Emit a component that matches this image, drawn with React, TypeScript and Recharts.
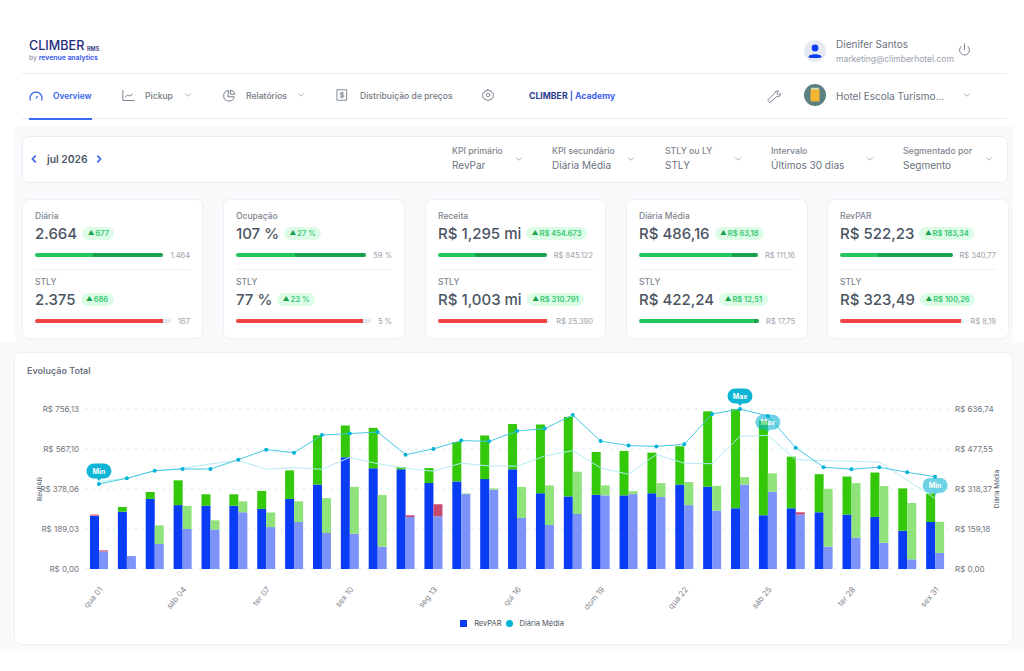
import {
  Bar,
  CartesianGrid,
  ComposedChart,
  Legend,
  Line,
  XAxis,
  YAxis,
} from "recharts";

const days = [
  "qua 01", "qui 02", "sex 03", "sáb 04", "dom 05", "seg 06", "ter 07", "qua 08", "qui 09", "sex 10", "sáb 11",
  "dom 12", "seg 13", "ter 14", "qua 15", "qui 16", "sex 17", "sáb 18", "dom 19", "seg 20", "ter 21", "qua 22",
  "qui 23", "sex 24", "sáb 25", "dom 26", "seg 27", "ter 28", "qua 29", "qui 30", "sex 31",
];

// barras do período atual (RevPAR + pickup positivo / negativo)
const revpar = [252, 271, 331, 302, 299, 299, 284, 331, 399, 528, 476, 471, 406, 414, 425, 471, 358, 343, 351, 348, 358, 399, 389, 287, 254, 287, 268, 257, 246, 181, 222];
const pickupUp = [0, 22, 33, 117, 54, 54, 85, 135, 233, 150, 191, 11, 71, 186, 206, 214, 325, 376, 202, 210, 192, 181, 356, 469, 447, 244, 180, 180, 210, 200, 135];
const pickupDown = [6, 0, 0, 0, 0, 0, 0, 0, 0, 0, 0, 0, 0, 0, 0, 0, 0, 0, 0, 0, 0, 0, 0, 0, 0, 0, 0, 0, 0, 0, 0];

// barras STLY
const revparStly = [83, 61, 118, 189, 186, 268, 198, 222, 170, 167, 106, 246, 249, 354, 375, 241, 208, 260, 348, 354, 340, 302, 276, 399, 365, 257, 106, 148, 124, 46, 76];
const pickupUpStly = [0, 0, 88, 109, 44, 52, 69, 98, 165, 221, 244, 0, 0, 3, 6, 147, 187, 200, 47, 14, 66, 109, 117, 35, 87, 0, 273, 258, 268, 266, 147];
const pickupDownStly = [5, 0, 0, 0, 0, 0, 0, 0, 0, 0, 0, 8, 57, 0, 0, 0, 0, 0, 0, 0, 0, 0, 0, 0, 0, 11, 0, 0, 0, 0, 0];

// linhas de Diária Média
const adr = [338, 361, 391, 398, 398, 435, 475, 463, 533, 539, 545, 455, 478, 511, 508, 549, 559, 613, 509, 491, 488, 496, 617, 636.74, 609, 483, 405, 397, 405, 385, 367];
const adrStly = [348, 361, 391, 401, 418, 432, 397, 403, 397, 444, 419, 401, 389, 421, 410, 409, 450, 471, 402, 377, 456, 421, 419, 528, 532, 435, 431, 429, 425, 354, 281];

const leftTicks = [0, 189.03, 378.06, 567.1, 756.13];
const rightTicks = [0, 159.18, 318.37, 477.55, 636.74];

const chartData = days.map((day, i) => ({
  day,
  revpar: revpar[i],
  pickupUp: pickupUp[i],
  pickupDown: pickupDown[i],
  revparStly: revparStly[i],
  pickupUpStly: pickupUpStly[i],
  pickupDownStly: pickupDownStly[i],
  adr: adr[i],
  adrStly: adrStly[i],
}));

const brl = (v: number) => `R$ ${v.toFixed(2).replace(".", ",")}`;

const navItems = [
  { label: "Overview", x: 53, color: "#3563e9", weight: 600, size: 8.4 },
  { label: "Pickup", x: 145, color: "#737a86", weight: 500, size: 8.6 },
  { label: "Relatórios", x: 246, color: "#737a86", weight: 500, size: 8.6 },
  { label: "Distribuição de preços", x: 360, color: "#737a86", weight: 500, size: 8.6 },
];

const filters = [
  { label: "KPI primário", value: "RevPar", x: 452, chevron: 519 },
  { label: "KPI secundário", value: "Diária Média", x: 552, chevron: 631 },
  { label: "STLY ou LY", value: "STLY", x: 665, chevron: 738 },
  { label: "Intervalo", value: "Últimos 30 dias", x: 771, chevron: 870 },
  { label: "Segmentado por", value: "Segmento", x: 903, chevron: 989 },
];

const GREEN = ["#22c55e", "#16a34a"];
const RED = ["#ef4444"];

const kpis = [
  { x: 22, w: 181, title: "Diária", value: "2.664", delta: "677", side: "1.464", segs: [0.45, 0.55], valueStly: "2.375", deltaStly: "686", sideStly: "167", segsStly: [0.94], colorsStly: RED },
  { x: 223, w: 182, title: "Ocupação", value: "107 %", delta: "27 %", side: "59 %", segs: [0.45, 0.55], valueStly: "77 %", deltaStly: "23 %", sideStly: "5 %", segsStly: [0.94], colorsStly: RED },
  { x: 425, w: 181, title: "Receita", value: "R$ 1,295 mi", delta: "R$ 454.673", side: "R$ 845.122", segs: [0.34, 0.66], valueStly: "R$ 1,003 mi", deltaStly: "R$ 310.791", sideStly: "R$ 25.390", segsStly: [0.98], colorsStly: RED },
  { x: 626, w: 182, title: "Diária Média", value: "R$ 486,16", delta: "R$ 63,18", side: "R$ 111,16", segs: [0.78, 0.22], valueStly: "R$ 422,24", deltaStly: "R$ 12,51", sideStly: "R$ 17,75", segsStly: [0.96, 0.04], colorsStly: GREEN },
  { x: 827, w: 182, title: "RevPAR", value: "R$ 522,23", delta: "R$ 183,34", side: "R$ 340,77", segs: [0.34, 0.66], valueStly: "R$ 323,49", deltaStly: "R$ 100,26", sideStly: "R$ 8,19", segsStly: [0.98], colorsStly: RED },
];

function T({ x, y, size, color = "#6b7280", weight = 400, children }: any) {
  return (
    <div
      style={{
        position: "absolute",
        left: x,
        top: y,
        transform: "translateY(-50%)",
        fontSize: size,
        lineHeight: 1,
        color,
        fontWeight: weight,
        whiteSpace: "nowrap",
      }}
    >
      {children}
    </div>
  );
}

function Icon({ x, y, size = 14, color = "#7c8491", width = 1.6, children }: any) {
  return (
    <svg
      width={size}
      height={size}
      viewBox="0 0 24 24"
      fill="none"
      stroke={color}
      strokeWidth={width}
      strokeLinecap="round"
      strokeLinejoin="round"
      style={{ position: "absolute", left: x - size / 2, top: y - size / 2 }}
    >
      {children}
    </svg>
  );
}

const Chevron = ({ x, y }: { x: number; y: number }) => (
  <Icon x={x} y={y} size={10}>
    <path d="M6 9l6 6 6-6" />
  </Icon>
);

function Pill({ text }: { text: string }) {
  return (
    <span
      style={{
        display: "inline-flex",
        alignItems: "center",
        height: 13,
        padding: "0 5.5px",
        marginLeft: 5,
        borderRadius: 7,
        background: "#dcfce7",
        color: "#34c76f",
        fontSize: 7.5,
        fontWeight: 600,
        whiteSpace: "nowrap",
      }}
    >
      <span style={{ color: "#16a34a", fontSize: 6.5, marginRight: 1 }}>▲</span>
      {text}
    </span>
  );
}

function Progress({ segs, colors, side }: { segs: number[]; colors: string[]; side: string }) {
  return (
    <div style={{ display: "flex", alignItems: "center", height: 8 }}>
      <div style={{ flex: 1, height: 4.5, borderRadius: 3, background: "#e2e8f0", display: "flex", overflow: "hidden" }}>
        {segs.map((s, i) => (
          <div key={i} style={{ width: `${s * 100}%`, background: colors[i] }} />
        ))}
      </div>
      <div style={{ marginLeft: 7, fontSize: 7.5, color: "#9aa1ab", whiteSpace: "nowrap" }}>{side}</div>
    </div>
  );
}

function KpiCard({ k }: { k: (typeof kpis)[number] }) {
  const row = (title: string, value: string, delta: string, segs: number[], colors: string[], side: string, top: number) => (
    <div style={{ position: "absolute", left: 12, right: 12, top }}>
      <div style={{ fontSize: 8.5, fontWeight: 500, color: "#7d8590", lineHeight: "10px" }}>{title}</div>
      <div style={{ display: "flex", alignItems: "center", height: 18, marginTop: 3, whiteSpace: "nowrap" }}>
        <span style={{ fontSize: 15, fontWeight: 500, color: "#4b5563" }}>{value}</span>
        <Pill text={delta} />
      </div>
      <div style={{ marginTop: 9 }}>
        <Progress segs={segs} colors={colors} side={side} />
      </div>
    </div>
  );
  return (
    <div
      style={{
        position: "absolute",
        left: k.x,
        top: 199,
        width: k.w,
        height: 140,
        boxSizing: "border-box",
        background: "#fff",
        border: "1px solid #eceff4",
        borderRadius: 7,
      }}
    >
      {row(k.title, k.value, k.delta, k.segs, GREEN, k.side, 11)}
      <div style={{ position: "absolute", left: 12, right: 12, top: 69, height: 1, background: "#eef0f4" }} />
      {row("STLY", k.valueStly, k.deltaStly, k.segsStly, k.colorsStly, k.sideStly, 77)}
    </div>
  );
}

// bolha Max / Min presa ao ponto da linha
function Bubble({ cx, cy, text, pale }: { cx: number; cy: number; text: string; pale: boolean }) {
  const by = cy - 13;
  return (
    <g opacity={pale ? 0.6 : 1}>
      <rect x={cx - 12.5} y={by - 7.5} width={25} height={15} rx={7.5} fill="#0fb5d6" />
      <path d={`M${cx - 2.5} ${by + 7}L${cx} ${by + 10}L${cx + 2.5} ${by + 7}Z`} fill="#0fb5d6" />
      <text x={cx} y={by + 2.5} textAnchor="middle" fontSize={7} fontWeight={700} fill="#fff">
        {text}
      </text>
    </g>
  );
}

const lineDot = (values: number[], withPoint: boolean) => (props: any) => {
  const { cx, cy, index } = props;
  const tag = values[index] === Math.max(...values) ? "Max" : values[index] === Math.min(...values) ? "Min" : null;
  return (
    <g key={index}>
      {withPoint && <circle cx={cx} cy={cy} r={2} fill="#00b2d6" />}
      {tag && <Bubble cx={cx} cy={cy} text={tag} pale={!withPoint} />}
    </g>
  );
};

// título vertical do eixo, centrado na altura do plot
const axisTitle = (x: number) => (props: any) => {
  const cy = props.viewBox.y + props.viewBox.height / 2;
  return (
    <text x={x} y={cy} transform={`rotate(-90 ${x} ${cy})`} textAnchor="middle" fontSize={6.5} fill="#4b5563">
      {props.value}
    </text>
  );
};

function ChartLegend() {
  return (
    <div style={{ display: "flex", justifyContent: "center", alignItems: "center", height: 20, fontSize: 7.5, color: "#4b5563", transform: "translateY(-6px)" }}>
      <span style={{ width: 7, height: 7, background: "#0a3cf5", marginRight: 7 }} />
      <span>RevPAR</span>
      <span style={{ width: 7, height: 7, borderRadius: "50%", background: "#00b2d6", margin: "0 7px 0 4px" }} />
      <span>Diária Média</span>
    </div>
  );
}

export default function App() {
  return (
    <div
      style={{
        position: "absolute",
        left: 0,
        top: 0,
        width: 1024,
        height: 671,
        overflow: "hidden",
        background: "#fff",
        fontFamily: "Inter, sans-serif",
      }}
    >
      {/* fundo */}
      <div style={{ position: "absolute", left: 15, top: 126, width: 998, height: 216, background: "#f8f9fb" }} />
      <div style={{ position: "absolute", left: 0, top: 342, width: 1024, height: 309, background: "#f8f9fb" }} />

      {/* cabeçalho */}
      <T x={29} y={46} size={12.6} color="#1f2c7c" weight={500}>CLIMBER</T>
      <T x={87} y={49.5} size={5.5} color="#1f2c7c" weight={600}>RMS</T>
      <T x={29} y={57.5} size={6.8} color="#7c8491">
        by <span style={{ color: "#3f5ff0", fontWeight: 700 }}>revenue analytics</span>
      </T>
      <svg width={22} height={22} style={{ position: "absolute", left: 804, top: 40 }}>
        <circle cx={11} cy={11} r={11} fill="#e6ebf3" />
        <circle cx={11} cy={8} r={3.4} fill="#0a3cf5" />
        <path d="M4.5 17c0-3.6 13-3.6 13 0c0 1.4-13 1.4-13 0z" fill="#0a3cf5" />
      </svg>
      <T x={836} y={44} size={10} color="#6b7280">Dienifer Santos</T>
      <T x={836} y={58.5} size={8.5} color="#9aa1ab">marketing@climberhotel.com</T>
      <Icon x={964} y={49} size={15}>
        <path d="M12 3v9" />
        <path d="M17.5 7a8 8 0 1 1-11 0" />
      </Icon>
      <div style={{ position: "absolute", left: 22, top: 73, width: 985, height: 1, background: "#e9ecf2" }} />

      {/* navegação */}
      {navItems.map((n) => (
        <T key={n.label} x={n.x} y={95.5} size={n.size} color={n.color} weight={n.weight}>{n.label}</T>
      ))}
      <svg width={14} height={10} viewBox="0 0 14 10" fill="none" stroke="#3563e9" strokeWidth={1.2} style={{ position: "absolute", left: 29, top: 91 }}>
        <path d="M1.5 9.5A6 6 0 1 1 12.5 9.5" />
        <path d="M7 7.5L8.6 5" />
      </svg>
      <Icon x={128} y={95} size={15}>
        <path d="M3 4v16h18" />
        <path d="M7 14l4-3 3 2 4-3" />
      </Icon>
      <Chevron x={188} y={95} />
      <Icon x={229} y={95} size={15}>
        <path d="M10 4a8.5 8.5 0 1 0 9.5 10H10z" />
        <path d="M14 3.5a7 7 0 0 1 6.5 6.5H14z" />
      </Icon>
      <Chevron x={301} y={95} />
      <Icon x={342} y={95} size={14}>
        <rect x={4} y={3} width={16} height={18} />
        <path d="M15 8.5h-4.5a1.7 1.7 0 0 0 0 3.5h3a1.7 1.7 0 0 1 0 3.5H9" />
        <path d="M12 7v10" />
      </Icon>
      <Icon x={488} y={95} size={14}>
        <circle cx={12} cy={12} r={3} />
        <path d="M12 2.5l2 2.7 3.3-.4 1.2 3.1 3 1.5-.8 3.1.8 3.1-3 1.5-1.2 3.1-3.3-.4-2 2.7-2-2.7-3.3.4-1.2-3.1-3-1.5.8-3.1-.8-3.1 3-1.5 1.2-3.1 3.3.4z" />
      </Icon>
      <T x={529} y={95.5} size={8.7} color="#2a3a8f" weight={700}>
        CLIMBER <span style={{ color: "#3f5ff0" }}>| Academy</span>
      </T>
      <Icon x={773} y={95} size={15}>
        <path d="M15 6a4.5 4.5 0 0 1 5.5-1l-3 3 .8 2.2 2.2.8 3-3a4.5 4.5 0 0 1-6 5.5L8 22a2.4 2.4 0 0 1-4-4l9.5-9.5A4.5 4.5 0 0 1 15 6z" />
      </Icon>
      <svg width={22} height={22} style={{ position: "absolute", left: 804, top: 84 }}>
        <circle cx={11} cy={11} r={11} fill="#5c8080" />
        <rect x={6.5} y={5} width={9} height={12.5} rx={1} fill="#f2b632" />
        <rect x={7} y={3.8} width={8} height={1.6} fill="#d8e0c4" />
      </svg>
      <T x={836} y={95.5} size={10} color="#6b7280">Hotel Escola Turismo...</T>
      <Chevron x={967} y={95} />
      <div style={{ position: "absolute", left: 22, top: 118, width: 985, height: 1, background: "#e9ecf2" }} />
      <div style={{ position: "absolute", left: 29, top: 118, width: 63, height: 1.5, background: "#3b6cf6" }} />

      {/* filtros */}
      <div style={{ position: "absolute", left: 22, top: 136, width: 986, height: 47, boxSizing: "border-box", background: "#fff", border: "1px solid #e9ecf2", borderRadius: 7 }} />
      <Icon x={34} y={159} size={10} color="#3563e9" width={4}>
        <path d="M15 5l-7 7 7 7" />
      </Icon>
      <T x={47} y={159} size={10.3} color="#4b5563" weight={600}>jul 2026</T>
      <Icon x={99} y={159} size={10} color="#3563e9" width={4}>
        <path d="M9 5l7 7-7 7" />
      </Icon>
      {filters.map((f) => (
        <div key={f.label}>
          <T x={f.x} y={151} size={8.7} color="#7d8590" weight={500}>{f.label}</T>
          <T x={f.x} y={165} size={10} color="#6b7280">{f.value}</T>
          <Chevron x={f.chevron} y={159} />
        </div>
      ))}

      {/* KPIs */}
      {kpis.map((k) => (
        <KpiCard key={k.title} k={k} />
      ))}

      {/* gráfico */}
      <div style={{ position: "absolute", left: 14, top: 352, width: 999, height: 293, boxSizing: "border-box", background: "#fff", border: "1px solid #eceff4", borderRadius: 7 }} />
      <T x={27} y={370} size={9} color="#6b7280" weight={600}>Evolução Total</T>
      <div style={{ position: "absolute", left: 0, top: 352 }}>
        <ComposedChart
          width={1024}
          height={293}
          data={chartData}
          margin={{ top: 57, right: 0, bottom: 0, left: 0 }}
          barGap={0}
          barSize={9}
        >
          <CartesianGrid yAxisId="left" vertical={false} stroke="#d7f1fb" strokeDasharray="3 4" />
          <XAxis
            dataKey="day"
            interval={2}
            angle={-50}
            textAnchor="end"
            height={50}
            axisLine={false}
            tickLine={false}
            tickMargin={11}
            tick={{ fontSize: 8, fill: "#7f858e" }}
          />
          <YAxis
            yAxisId="left"
            width={85}
            domain={[0, 756.13]}
            ticks={leftTicks}
            tickFormatter={brl}
            axisLine={false}
            tickLine={false}
            tickSize={0}
            tickMargin={6}
            tick={{ fontSize: 8, fill: "#6f7680" }}
            label={{ value: "RevPAR", content: axisTitle(42) }}
          />
          <YAxis
            yAxisId="right"
            orientation="right"
            width={75}
            domain={[0, 636.74]}
            ticks={rightTicks}
            tickFormatter={brl}
            axisLine={false}
            tickLine={false}
            tickSize={0}
            tickMargin={6}
            tick={{ fontSize: 8, fill: "#6f7680" }}
            label={{ value: "Diária Média", content: axisTitle(999) }}
          />
          <Legend verticalAlign="bottom" content={<ChartLegend />} wrapperStyle={{ height: 26 }} />
          <Bar yAxisId="left" stackId="atual" dataKey="revpar" fill="#0a3cf5" isAnimationActive={false} />
          <Bar yAxisId="left" stackId="atual" dataKey="pickupUp" fill="#33c80a" isAnimationActive={false} />
          <Bar yAxisId="left" stackId="atual" dataKey="pickupDown" fill="#ee6a72" isAnimationActive={false} />
          <Bar yAxisId="left" stackId="stly" dataKey="revparStly" fill="#7d93fa" isAnimationActive={false} />
          <Bar yAxisId="left" stackId="stly" dataKey="pickupUpStly" fill="#90e27a" isAnimationActive={false} />
          <Bar yAxisId="left" stackId="stly" dataKey="pickupDownStly" fill="#c8496e" isAnimationActive={false} />
          <Line
            yAxisId="right"
            dataKey="adrStly"
            type="linear"
            stroke="#b3ebf4"
            strokeWidth={1}
            dot={lineDot(adrStly, false)}
            activeDot={false}
            isAnimationActive={false}
          />
          <Line
            yAxisId="right"
            dataKey="adr"
            type="linear"
            stroke="#45c8e2"
            strokeWidth={1}
            dot={lineDot(adr, true)}
            activeDot={false}
            isAnimationActive={false}
          />
        </ComposedChart>
      </div>
    </div>
  );
}
